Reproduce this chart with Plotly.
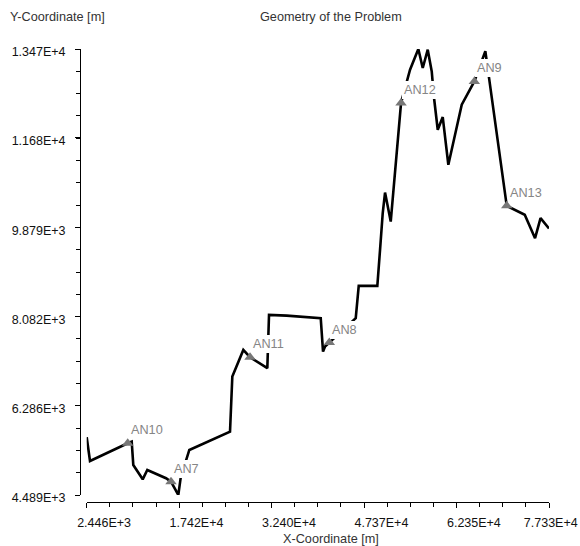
import plotly.graph_objects as go

# Boundary polyline of the problem geometry (metres)
boundary_x = [2446, 2981, 9087, 9735, 9995, 11517, 12262, 15292, 16103, 17285,
              17673, 19067, 25661, 26033, 27815, 28901, 31703, 31979, 34846, 37535,
              40354, 40727, 41051, 41747, 46024, 46510, 49523, 49961, 50398, 50771,
              51694, 53363, 54821, 56165, 56878, 57688, 58336, 58709, 59308, 60118,
              61025, 63196, 65237, 67019, 70486, 73400, 75071, 75962, 77330]
boundary_y = [5652, 5174, 5531, 5563, 5094, 4805, 4993, 4826, 4757, 4489,
              4838, 5396, 5765, 6873, 7411, 7264, 7042, 8116, 8102, 8070,
              8050, 7377, 7477, 7558, 8050, 8700, 8700, 9426, 10165, 10580,
              9996, 12382, 13053, 13470, 13087, 13456, 13019, 12483, 11844, 12100,
              11139, 12348, 12817, 13426, 10312, 10131, 9661, 10064, 9855]

# Named stations along the boundary
station_names = ["AN10", "AN7", "AN11", "AN8", "AN12", "AN9", "AN13"]
station_x = [9087, 16103, 28901, 41747, 53363, 65237, 70486]
station_y = [5531, 4757, 7264, 7558, 12382, 12817, 10312]

# Axis ticks
x_tickvals = [2446, 17420, 32400, 47370, 62350, 77330]
x_ticktext = ["2.446E+3", "1.742E+4", "3.240E+4", "4.737E+4", "6.235E+4", "7.733E+4"]
y_tickvals = [4489, 6286, 8082, 9879, 11680, 13470]
y_ticktext = ["4.489E+3", "6.286E+3", "8.082E+3", "9.879E+3", "1.168E+4", "1.347E+4"]

FONT = "Liberation Sans, Arial, sans-serif"
W, H = 580, 546
ML, MR, MT, MB = 80, 31, 49, 44
plot_w = W - ML - MR
plot_h = H - MT - MB

# X labels sit to the right of their ticks (leading spaces); the last one stays inside the page
NBSP = "\u00a0"
x_ticktext_drawn = [NBSP * 10 + t for t in x_ticktext[:-1]] + [NBSP + x_ticktext[-1]]

fig = go.Figure()
fig.add_trace(go.Scatter(
    x=boundary_x, y=boundary_y, mode="lines",
    line=dict(color="black", width=2.6),
    hoverinfo="skip", showlegend=False,
))
fig.add_trace(go.Scatter(
    x=station_x, y=station_y, mode="markers",
    marker=dict(symbol="triangle-up", size=10, color="#777777"),
    showlegend=False,
))

for name, sx, sy in zip(station_names, station_x, station_y):
    fig.add_annotation(
        x=sx, y=sy, xref="x", yref="y", text=name, showarrow=False,
        xanchor="left", yanchor="bottom", xshift=1, yshift=4,
        bgcolor="white", borderpad=2, borderwidth=0,
        font=dict(family=FONT, size=12.7, color="#858585"),
    )

x_span = x_tickvals[-1] - x_tickvals[0]
y_span = y_tickvals[-1] - y_tickvals[0]

fig.update_layout(
    width=W, height=H, autosize=False,
    margin=dict(l=ML, r=MR, t=MT, b=MB, pad=0),
    paper_bgcolor="white", plot_bgcolor="white",
    font=dict(family=FONT, size=12, color="#111111"),
    xaxis=dict(
        domain=[(86.7 - ML) / plot_w, 1.0], anchor="free", position=0,
        automargin=False,
        range=[x_tickvals[0], x_tickvals[-1]],
        tickmode="array", tickvals=x_tickvals, ticktext=x_ticktext_drawn,
        showline=True, linecolor="black", linewidth=1,
        ticks="outside", ticklen=5, tickcolor="black", tickwidth=1,
        minor=dict(ticks="outside", ticklen=4, tickcolor="black",
                   tick0=x_tickvals[0], dtick=x_span / 20),
        showgrid=False, zeroline=False,
        tickfont=dict(family=FONT, size=12.5, color="#111111"),
        ticklabelstandoff=4,
    ),
    yaxis=dict(
        domain=[(H - MB - 495) / plot_h, 1.0],
        anchor="free", position=0, automargin=False,
        range=[y_tickvals[0], y_tickvals[-1]],
        tickmode="array", tickvals=y_tickvals, ticktext=y_ticktext,
        showline=True, linecolor="black", linewidth=1,
        ticks="outside", ticklen=5, tickcolor="black", tickwidth=1,
        minor=dict(ticks="outside", ticklen=4, tickcolor="black",
                   tick0=y_tickvals[0], dtick=y_span / 20),
        showgrid=False, zeroline=False,
        tickfont=dict(family=FONT, size=12.5, color="#111111"),
        ticklabelstandoff=7, ticklabelshift=3,
    ),
)

# Titles
title_font = dict(family=FONT, size=12.7, color="#333333")
fig.add_annotation(text="Geometry of the Problem", xref="paper", yref="paper",
                   x=(331 - ML) / plot_w, y=(H - MB - 17) / plot_h,
                   xanchor="center", yanchor="middle", showarrow=False,
                   font=title_font)
fig.add_annotation(text="Y-Coordinate [m]", xref="paper", yref="paper",
                   x=(8 - ML) / plot_w, y=(H - MB - 17) / plot_h,
                   xanchor="left", yanchor="middle", showarrow=False,
                   font=title_font)
fig.add_annotation(text="X-Coordinate [m]", xref="paper", yref="paper",
                   x=(330.5 - ML) / plot_w, y=(H - MB - 539) / plot_h,
                   xanchor="center", yanchor="middle", showarrow=False,
                   font=title_font)

fig.write_html("out.html")
